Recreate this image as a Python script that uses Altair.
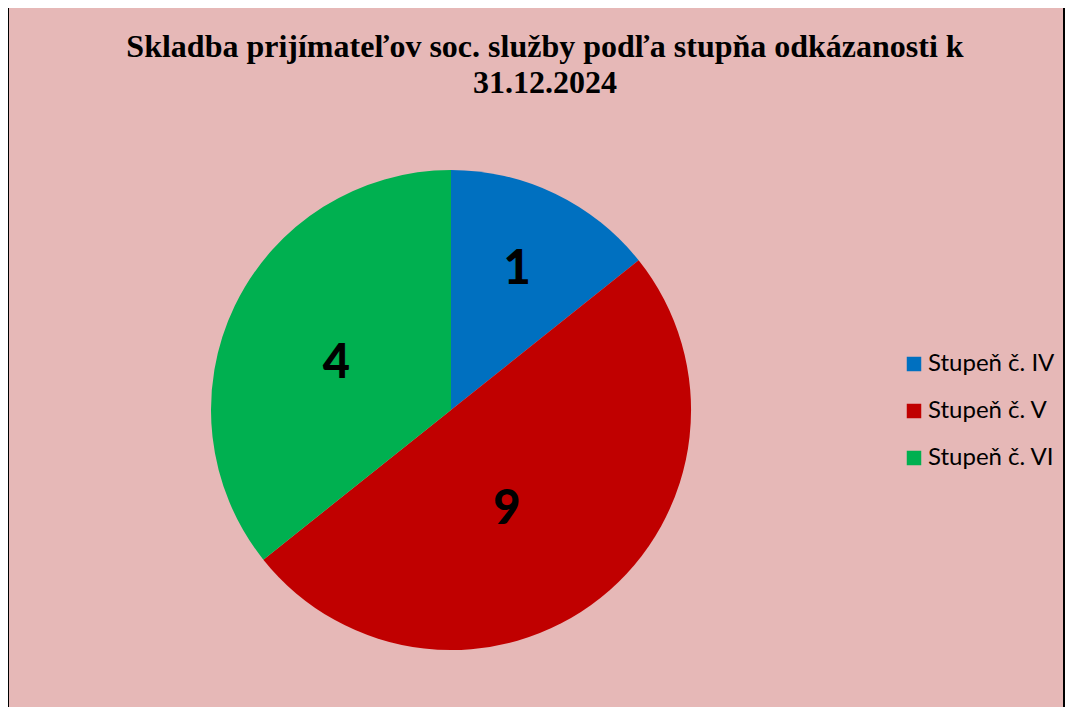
import altair as alt
import pandas as pd

# Data
categories = ["Stupeň č. IV", "Stupeň č. V", "Stupeň č. VI"]
slice_shares = [2, 7, 5]          # slice angles as drawn (51°, 180°, 129°)
slice_labels = ["1", "9", "4"]    # numbers printed on the slices
colors = ["#0070C0", "#C00000", "#00B050"]
title_lines = ["Skladba prijímateľov soc. služby podľa stupňa odkázanosti k", "31.12.2024"]

W, H = 1057, 699
CX, CY, R = 443, 402, 240
BG = "#E6B8B7"

df = pd.DataFrame({
    "cat": categories,
    "share": slice_shares,
    "label": slice_labels,
    "order": list(range(len(categories))),
})

color = alt.Color(
    "cat:N",
    scale=alt.Scale(domain=categories, range=colors),
    legend=alt.Legend(
        title=None, orient="none", legendX=894, legendY=344, padding=0,
        symbolType="square", symbolSize=210, symbolStrokeWidth=0,
        labelFont="Lato", labelFontSize=24, labelColor="#000000",
        rowPadding=23, labelOffset=2, symbolOffset=0,
    ),
)

base = alt.Chart(df).encode(
    theta=alt.Theta("share:Q", stack=True),
    order=alt.Order("order:Q"),
)

pie = base.mark_arc(outerRadius=R, stroke=None).encode(
    color=color, x=alt.value(CX), y=alt.value(CY)
)

label_adj = {"1": (150, 1, -5), "9": (120, -19, 6), "4": (125, -2, 8)}
label_layers = []
for lab in slice_labels:
    rr, ddx, ddy = label_adj[lab]
    label_layers.append(
        base.mark_text(radius=rr, dx=ddx, dy=ddy, font="Lato", fontSize=47,
                       fontWeight=900, color="#000000", baseline="middle", align="center")
        .encode(text="label:N", x=alt.value(CX), y=alt.value(CY),
                opacity=alt.condition(alt.datum.label == lab, alt.value(1), alt.value(0)))
    )

title = alt.Chart(pd.DataFrame({"t": [title_lines]})).mark_text(
    font="Liberation Serif", fontSize=32, fontWeight="bold", color="#000000",
    align="center", baseline="middle", lineHeight=36,
).encode(text="t", x=alt.value(537), y=alt.value(39))

bd = pd.DataFrame({"k": [0]})
border_left = alt.Chart(bd).mark_rule(color="#000000", strokeWidth=2).encode(
    x=alt.value(0), y=alt.value(-1), y2=alt.value(H + 10))
border_top = alt.Chart(bd).mark_rule(color="#000000", strokeWidth=2).encode(
    x=alt.value(0), x2=alt.value(W), y=alt.value(-1))
border_right = alt.Chart(bd).mark_rule(color="#000000", strokeWidth=2).encode(
    x=alt.value(W - 1), y=alt.value(-1), y2=alt.value(H + 10))

chart = alt.layer(pie, *label_layers, title, border_left, border_top, border_right).properties(
    width=W, height=H, background=BG, padding=0,
    autosize=alt.AutoSizeParams(type="none"),
).configure_view(stroke=None)

chart.save("out.html", embed_options={"renderer": "svg", "actions": False})
